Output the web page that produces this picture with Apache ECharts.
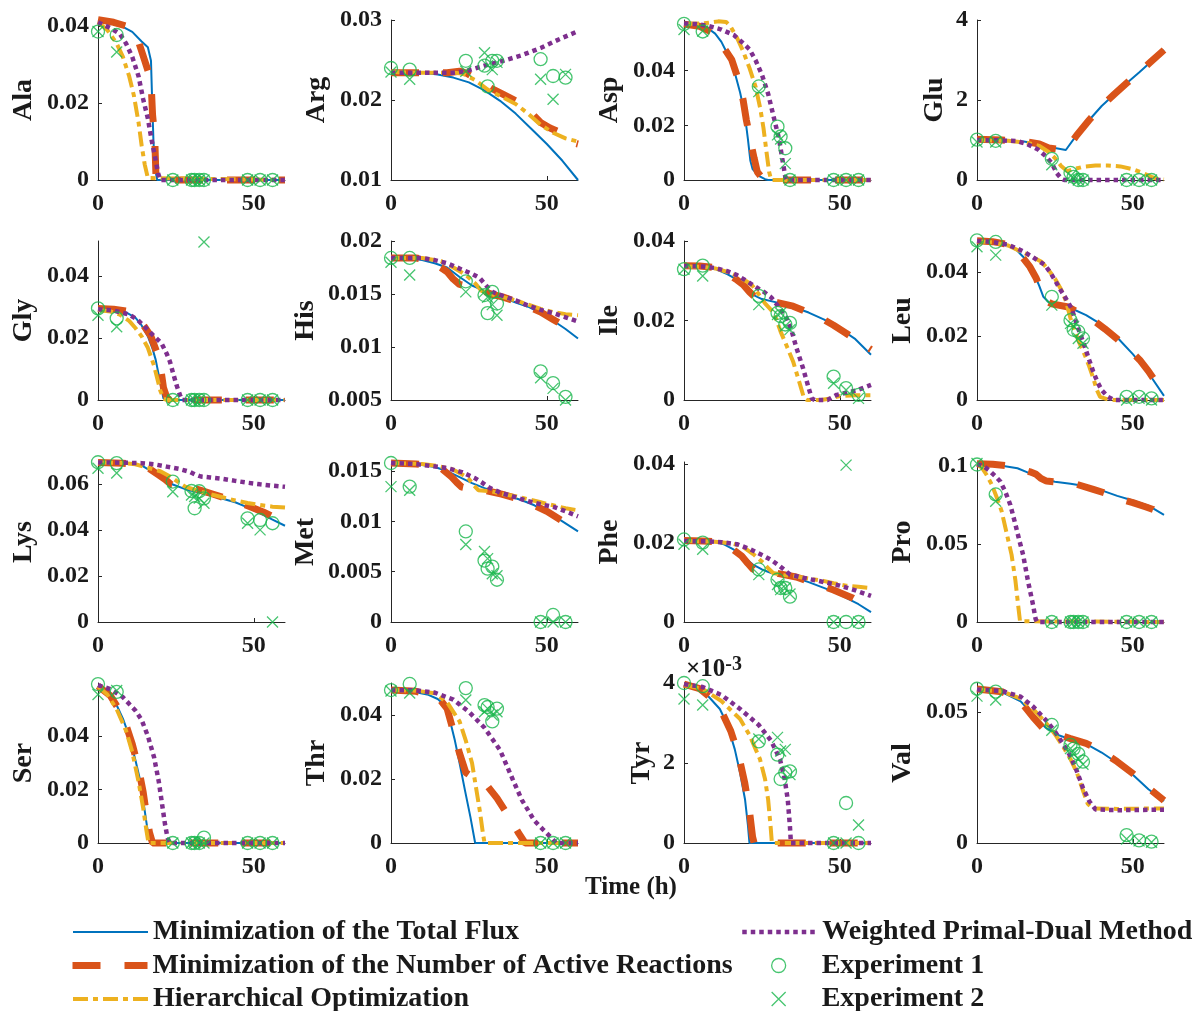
<!DOCTYPE html>
<html>
<head>
<meta charset="utf-8">
<script src="https://cdn.jsdelivr.net/npm/echarts@6/dist/echarts.min.js"></script>
<style>
  html, body { margin: 0; padding: 0; background: #ffffff; }
  #chart { width: 1194px; height: 1011px; }
</style>
</head>
<body>
<div id="chart"></div>
<script>
// Amino acid concentration profiles over time: four flux-estimation methods vs. two experiments.

const seriesNames = [
  'Minimization of the Total Flux',
  'Minimization of the Number of Active Reactions',
  'Hierarchical Optimization',
  'Weighted Primal-Dual Method',
  'Experiment 1',
  'Experiment 2'
];
const panelNames = ['Ala','Arg','Asp','Glu','Gly','His','Ile','Leu','Lys','Met','Phe','Pro','Ser','Thr','Tyr','Val'];
const xTicks = [0, 50];
const expTimes = [0, 6, 24, 30, 31, 32.5, 34, 48, 52, 56];

// ---- Ala ----
const alaRange = [0, 0.0416];
const alaTicks = [0, 0.02, 0.04];
const alaFlux = [[0,0.0415],[4,0.041],[8,0.0398],[11,0.0385],[14,0.036],[16,0.0345],[17,0.031],[17.4,0.02],[17.8,0.01],[18.3,0.003],[19,0],[60,0]];
const alaActive = [[0,0.0417],[5,0.041],[10,0.0398],[13,0.036],[15,0.031],[17,0.026],[17.5,0.017],[18.2,0.011],[18.6,0.001],[19,0],[60,0]];
const alaHier = [[0,0.041],[3,0.039],[6,0.0355],[8,0.032],[10,0.027],[11.5,0.022],[13,0.015],[14,0.009],[15,0.004],[16,0.0005],[16.5,0],[60,0]];
const alaPD = [[0,0.041],[4,0.0395],[7,0.038],[9,0.0355],[11,0.032],[13,0.027],[14.5,0.021],[16,0.016],[17.2,0.0104],[18.3,0.006],[19.3,0.0017],[20,0],[60,0]];
const alaExp1 = [0.0386,0.0377,0,0,0,0,0,0,0,0];
const alaExp2 = [0.0386,0.0333,0,0,0,0,0,0,0,0];

// ---- Arg ----
const argRange = [0.01, 0.03];
const argTicks = [0.01, 0.02, 0.03];
const argFlux = [[0,0.0235],[10,0.0234],[15,0.0232],[20,0.0228],[25,0.0222],[30,0.0212],[35,0.0199],[40,0.0183],[45,0.0164],[50,0.0145],[55,0.0124],[60,0.01]];
const argActive = [[0,0.0234],[10,0.0234],[18,0.0234],[22,0.0236],[24,0.0234],[28,0.0225],[32,0.0215],[36,0.0207],[40,0.0199],[44,0.0188],[48,0.0172],[51,0.0165],[54,0.016],[57,0.0148],[60,0.0145]];
const argHier = [[0,0.0235],[10,0.0234],[20,0.0234],[23,0.0233],[27,0.0225],[31,0.0213],[35,0.0205],[40,0.0195],[44,0.0183],[48,0.0169],[52,0.0159],[56,0.0152],[60,0.0148]];
const argPD = [[0,0.0234],[20,0.0234],[24,0.0236],[30,0.0243],[36,0.0249],[42,0.0256],[48,0.0265],[54,0.0276],[60,0.0286]];
const argExp1 = [0.024,0.0238,0.0249,0.0243,0.0217,0.0249,0.0249,0.0251,0.023,0.0228];
const argExp2 = [0.0235,0.0226,0.0236,0.0259,0.0243,0.0238,0.0247,0.0226,0.0201,0.0232];

// ---- Asp ----
const aspRange = [0, 0.0585];
const aspTicks = [0, 0.02, 0.04];
const aspFlux = [[0,0.0575],[5,0.0565],[8,0.0552],[10,0.0535],[12,0.0505],[14,0.046],[16,0.0405],[18,0.032],[19.5,0.024],[20.5,0.015],[21.3,0.007],[22,0.004],[24,0.0015],[26,0.0003],[27,0],[60,0]];
const aspActive = [[0,0.057],[5,0.0562],[10,0.0535],[13,0.048],[15.3,0.044],[18,0.0348],[19,0.029],[20,0.022],[21.7,0.0122],[22.5,0.008],[23.5,0.003],[25,0.0008],[27,0],[60,0]];
const aspHier = [[0,0.057],[5,0.0572],[8,0.0575],[11,0.058],[13.5,0.0578],[15,0.056],[17,0.052],[19,0.047],[21,0.041],[23,0.034],[24.5,0.026],[25.5,0.019],[26.5,0.01],[27.3,0.003],[28,0],[60,0]];
const aspPD = [[0,0.0572],[4,0.057],[8,0.0563],[12,0.055],[16,0.053],[19,0.05],[21,0.0478],[23,0.0437],[25,0.0385],[27,0.0315],[29,0.022],[30.5,0.015],[31.5,0.008],[32.5,0.0012],[33,0],[60,0]];
const aspExp1 = [0.0571,0.0543,0.0342,0.0195,0.0159,0.0116,0,0,0,0];
const aspExp2 = [0.055,0.0545,0.0323,0.0165,0.015,0.006,0,0,0,0];

// ---- Glu ----
const gluRange = [0, 4];
const gluTicks = [0, 2, 4];
const gluFlux = [[0,1.0],[5,1.0],[10,0.99],[15,0.96],[20,0.9],[25,0.8],[28.5,0.75],[32,1.13],[36,1.5],[40,1.85],[44,2.14],[48,2.42],[52,2.69],[56,2.97],[60,3.25]];
const gluActive = [[0,1.02],[8,1.0],[15,0.97],[20,0.9],[23,0.8],[28.5,0.74],[32,1.12],[36,1.5],[40,1.85],[44,2.14],[48,2.42],[52,2.69],[56,2.97],[60,3.25]];
const gluHier = [[0,1.0],[10,0.98],[16,0.93],[20,0.85],[23,0.7],[25,0.55],[27,0.35],[29,0.22],[31,0.27],[34,0.33],[38,0.36],[42,0.36],[46,0.34],[50,0.27],[53,0.18],[56,0.08],[58,0.02],[60,0.01]];
const gluPD = [[0,1.0],[8,0.99],[13,0.97],[16,0.9],[19.6,0.76],[22,0.6],[24,0.42],[25.6,0.17],[27,0.04],[28,0],[60,0]];
const gluExp1 = [1.01,0.98,0.53,0.18,0.08,0,0,0,0,0];
const gluExp2 = [0.95,0.95,0.38,0.1,0.05,0,0,0,0,0];

// ---- Gly ----
const glyRange = [0, 0.0512];
const glyTicks = [0, 0.02, 0.04];
const glyFlux = [[0,0.0295],[5,0.0291],[9,0.0282],[12,0.0265],[14,0.024],[16,0.0205],[17.5,0.0165],[18.5,0.013],[19.5,0.008],[20.3,0.004],[21,0.0005],[22,0],[60,0]];
const glyActive = [[0,0.0295],[5,0.0292],[10,0.0285],[13,0.026],[15,0.0235],[17,0.0205],[19,0.015],[20,0.011],[21,0.004],[22,0.001],[23,0],[60,0]];
const glyHier = [[0,0.029],[4,0.0285],[7,0.0275],[10,0.0255],[12,0.0232],[14,0.0205],[16,0.0168],[18,0.011],[19,0.007],[20,0.003],[21,0.0005],[22,0],[60,0]];
const glyPD = [[0,0.0292],[5,0.0288],[10,0.0275],[12.5,0.026],[14.5,0.0241],[17,0.0215],[18.8,0.0198],[20.4,0.0182],[22,0.015],[23.1,0.0123],[24.1,0.0086],[25.2,0.0048],[26.3,0.0016],[27,0],[60,0]];
const glyExp1 = [0.0295,0.0263,0,0,0,0,0,0,0,0];
const glyExp2 = [0.0273,0.0236,0,0,0,0,0.0509,0,0,0];

// ---- His ----
const hisRange = [0.005, 0.02];
const hisTicks = [0.005, 0.01, 0.015, 0.02];
const hisFlux = [[0,0.0185],[6,0.0184],[10,0.0182],[14,0.0179],[18,0.0175],[22,0.0166],[26,0.0158],[30,0.0153],[34,0.0149],[40,0.0142],[44,0.0138],[48,0.0132],[52,0.0125],[56,0.0117],[60,0.0108]];
const hisActive = [[0,0.0184],[8,0.0184],[12,0.0182],[16,0.0175],[18,0.0171],[20,0.0164],[22,0.0159],[25,0.0157],[28,0.0155],[32,0.015],[36,0.0147],[40,0.0143],[44,0.0138],[48,0.0133],[52,0.0126],[56,0.0119],[60,0.0111]];
const hisHier = [[0,0.0184],[10,0.0184],[16,0.0181],[20,0.0175],[24,0.0168],[27,0.016],[29,0.0153],[32,0.015],[36,0.0147],[40,0.0144],[44,0.014],[48,0.0136],[52,0.0133],[56,0.0131],[60,0.013]];
const hisPD = [[0,0.0184],[10,0.0184],[14,0.0182],[18,0.0179],[22,0.0174],[26,0.0169],[28.5,0.0165],[30.5,0.0158],[32.5,0.0152],[36,0.0148],[40,0.0144],[44,0.0139],[48,0.0135],[52,0.0132],[56,0.0128],[60,0.0124]];
const hisExp1 = [0.0184,0.0184,0.0162,0.0149,0.0132,0.0152,0.0141,0.0077,0.0066,0.0053];
const hisExp2 = [0.018,0.0168,0.0152,0.0152,0.0147,0.014,0.013,0.0071,0.0061,0.005];

// ---- Ile ----
const ileRange = [0, 0.04];
const ileTicks = [0, 0.02, 0.04];
const ileFlux = [[0,0.0338],[5,0.0336],[10,0.033],[14,0.0316],[17,0.0303],[20,0.0281],[22,0.0265],[25,0.0254],[30,0.0245],[35,0.0234],[40,0.022],[45,0.0202],[50,0.018],[55,0.0153],[60,0.0114]];
const ileActive = [[0,0.0338],[5,0.0337],[10,0.0333],[14,0.0318],[17,0.0302],[19,0.029],[21,0.0272],[23,0.0257],[25,0.0253],[30,0.0245],[35,0.0236],[40,0.022],[44,0.0206],[48,0.0188],[52,0.0168],[56,0.0147],[60,0.0127]];
const ileHier = [[0,0.0336],[6,0.0335],[10,0.0331],[14,0.0322],[17,0.0312],[20,0.0299],[22,0.0287],[24,0.0266],[26,0.0243],[28,0.0226],[29.5,0.0205],[31,0.0172],[33,0.0135],[35,0.0097],[37,0.0045],[38.5,0.0005],[39.5,0],[44,0],[47,0.0004],[50,0.001],[55,0.0012],[60,0.0012]];
const ilePD = [[0,0.0337],[6,0.0336],[10,0.0332],[14,0.0324],[17,0.0314],[20,0.03],[23.3,0.0283],[26,0.027],[28,0.0258],[30,0.0238],[31.5,0.0222],[33,0.0205],[34.5,0.0175],[36,0.0133],[38.2,0.008],[40,0.003],[41,0.0004],[42,0],[46,0],[49,0.0013],[52,0.0018],[55.3,0.0024],[60,0.0038]];
const ileExp1 = [0.0329,0.0338,0.0262,0.0219,0.0211,0.019,0.0194,0.0059,0.003,0.0013];
const ileExp2 = [0.0329,0.0312,0.024,0.0215,0.0219,0.0186,0.0177,0.0042,0.0025,0.0004];

// ---- Leu ----
const leuRange = [0, 0.0496];
const leuTicks = [0, 0.02, 0.04];
const leuFlux = [[0,0.0495],[5,0.0492],[10,0.0483],[13,0.0465],[15.5,0.044],[18.5,0.039],[20,0.0355],[21.3,0.0322],[23,0.0305],[25,0.03],[30,0.0287],[35,0.0265],[40,0.0235],[45,0.0195],[50,0.0143],[53,0.0108],[56,0.007],[60,0.0013]];
const leuActive = [[0,0.0497],[5,0.0494],[10,0.0485],[13,0.0465],[17,0.0415],[19,0.038],[20.7,0.0337],[22,0.031],[24,0.03],[29.3,0.029],[33,0.027],[37.3,0.0249],[41,0.0222],[44.8,0.0192],[48.5,0.016],[52.2,0.0125],[55,0.009],[58,0.0047],[60,0.0036]];
const leuHier = [[0,0.0495],[5,0.0492],[10,0.0482],[13,0.0468],[17,0.045],[20.7,0.0431],[23,0.0405],[25,0.0379],[27,0.0345],[28.5,0.031],[30,0.0255],[31.4,0.0213],[33,0.0175],[34.6,0.014],[36,0.0105],[37.3,0.0068],[38.5,0.003],[39.5,0.001],[42,0.0002],[44,0],[60,0]];
const leuPD = [[0,0.0496],[5,0.0493],[10,0.0484],[13,0.0472],[15.5,0.046],[18,0.0445],[21.8,0.0421],[23.5,0.0398],[25,0.0374],[26.5,0.0348],[28.2,0.0322],[30.3,0.0286],[32.5,0.0223],[34.6,0.0166],[36,0.0125],[37.3,0.0088],[38.7,0.0055],[40,0.0031],[42,0.001],[44,0],[60,0]];
const leuExp1 = [0.0498,0.0493,0.0322,0.0249,0.0219,0.0213,0.0192,0.001,0.001,0.0005];
const leuExp2 = [0.0478,0.0452,0.0296,0.0239,0.023,0.0192,0.0177,0,0.0005,0];

// ---- Lys ----
const lysRange = [0, 0.0695];
const lysTicks = [0, 0.02, 0.04, 0.06];
const lysFlux = [[0,0.0693],[5,0.0692],[10,0.0689],[14,0.068],[17,0.0655],[20,0.0633],[24,0.0597],[28,0.0577],[32,0.0563],[36,0.055],[40,0.0535],[44,0.052],[48,0.0498],[52,0.0472],[56,0.0445],[60,0.0418]];
const lysActive = [[0,0.0693],[8,0.069],[12,0.0685],[16,0.067],[19.3,0.064],[21.5,0.062],[23.5,0.0597],[26,0.0593],[29,0.0588],[33,0.0572],[37,0.0555],[41,0.0538],[45,0.052],[49,0.05],[53,0.0478],[57,0.0452],[60,0.043]];
const lysHier = [[0,0.0693],[8,0.0691],[12,0.0685],[16,0.067],[20,0.0655],[24,0.0625],[26,0.0605],[28,0.0588],[32,0.057],[36,0.0555],[40,0.0542],[44,0.0528],[48,0.0517],[52,0.0508],[56,0.0501],[60,0.0497]];
const lysPD = [[0,0.0693],[8,0.0692],[14,0.069],[18,0.0685],[22,0.0675],[26,0.0665],[29.5,0.0652],[31,0.0642],[33,0.0632],[36,0.0628],[40,0.0622],[44,0.0613],[48,0.0605],[52,0.0598],[56,0.0592],[60,0.0587]];
const lysExp1 = [0.0694,0.069,0.061,0.0569,0.0494,0.0568,0.0537,0.045,0.0443,0.0429];
const lysExp2 = [0.0668,0.0647,0.0566,0.0552,0.0545,0.0538,0.0516,0.0429,0.04,0];

// ---- Met ----
const metRange = [0, 0.0159];
const metTicks = [0, 0.005, 0.01, 0.015];
const metFlux = [[0,0.0158],[6,0.0157],[10,0.0156],[14,0.0154],[18,0.015],[22,0.0144],[26,0.0138],[30,0.0133],[34,0.0129],[38,0.0125],[42,0.0121],[46,0.0116],[50,0.0109],[54,0.0102],[57,0.0096],[60,0.009]];
const metActive = [[0,0.0158],[8,0.0157],[12,0.0156],[16,0.0153],[19.5,0.0144],[21,0.0139],[22.7,0.0134],[26,0.0132],[30,0.0131],[35.5,0.0127],[40,0.0123],[46,0.0116],[50,0.011],[54.7,0.0101],[60,0.0093]];
const metHier = [[0,0.0158],[10,0.0157],[15,0.0155],[19.5,0.0152],[22,0.0148],[24.8,0.0143],[26.5,0.0136],[28,0.0131],[32,0.013],[36,0.0127],[40,0.0125],[44,0.0122],[48,0.0119],[52,0.0116],[56,0.0113],[60,0.0111]];
const metPD = [[0,0.0158],[8,0.0157],[13,0.0155],[18,0.0153],[22.7,0.0149],[26.9,0.0143],[29,0.0139],[31.2,0.0134],[35.5,0.0128],[40,0.0124],[44,0.012],[48,0.0117],[52.6,0.0114],[56,0.011],[60,0.0105]];
const metExp1 = [0.0158,0.01345,0.009,0.0061,0.0053,0.0055,0.0042,0,0.0007,0];
const metExp2 = [0.01345,0.0131,0.0077,0.007,0.0063,0.0048,0.0046,0,0,0];

// ---- Phe ----
const pheRange = [0, 0.0405];
const pheTicks = [0, 0.02, 0.04];
const pheFlux = [[0,0.0205],[5,0.0205],[10,0.0203],[13,0.0196],[16,0.0183],[19,0.0166],[22,0.0146],[25,0.0133],[28,0.0124],[32,0.0117],[36,0.0111],[40,0.0101],[44,0.0089],[48,0.0077],[52,0.0061],[56,0.0045],[60,0.0025]];
const pheActive = [[0,0.0206],[6,0.0205],[10,0.0203],[14,0.0192],[16,0.0182],[18.5,0.0167],[20.5,0.0148],[22.2,0.0133],[25,0.0132],[28,0.0126],[32,0.012],[36,0.0114],[40,0.0103],[44.7,0.0091],[48,0.0081],[51,0.0071],[54.3,0.006],[57,0.0048],[60,0.0034]];
const pheHier = [[0,0.0205],[8,0.0204],[12,0.0202],[16,0.0198],[19,0.019],[22.2,0.0172],[24,0.016],[25.4,0.015],[27,0.0136],[28.6,0.0124],[32,0.0119],[36,0.0115],[40,0.011],[44.7,0.0104],[48,0.0098],[52,0.0092],[56,0.0089],[60,0.0086]];
const phePD = [[0,0.0205],[8,0.0204],[12,0.0202],[17,0.0197],[21,0.0185],[25.4,0.0168],[28,0.0157],[30.8,0.0141],[32.5,0.013],[34,0.012],[37,0.0114],[40,0.0109],[45,0.0101],[50,0.0092],[55,0.008],[60,0.0066]];
const pheExp1 = [0.0209,0.0201,0.0133,0.0107,0.0086,0.0086,0.0064,0,0,0];
const pheExp2 = [0.0197,0.0184,0.012,0.0095,0.0082,0.0086,0.0071,0,0.0397,0];

// ---- Pro ----
const proRange = [0, 0.1025];
const proTicks = [0, 0.05, 0.1];
const proFlux = [[0,0.1012],[5,0.101],[10,0.0995],[13,0.0985],[16,0.096],[19,0.0932],[22,0.0912],[25,0.0898],[30,0.0885],[35,0.087],[40,0.0843],[45,0.0808],[50,0.0778],[55,0.0745],[60,0.0686]];
const proActive = [[0,0.1013],[5,0.1011],[10,0.1],[14,0.098],[17,0.0962],[19,0.0946],[20.5,0.092],[22.3,0.0903],[25,0.0898],[27.6,0.0895],[32,0.0882],[37.3,0.085],[42,0.082],[46.4,0.0785],[50,0.0765],[54,0.0738],[56.5,0.0721],[60,0.0675]];
const proHier = [[0,0.101],[1.5,0.099],[3,0.0945],[4.7,0.0882],[6.5,0.079],[7.9,0.071],[9.5,0.057],[11.1,0.043],[12.3,0.027],[13.2,0.0108],[13.8,0.0005],[14.2,0],[60,0]];
const proPD = [[0,0.101],[2,0.1],[4,0.097],[5.8,0.0935],[7.5,0.09],[9,0.0839],[10.7,0.075],[12.2,0.0635],[13.5,0.053],[14.8,0.043],[16.4,0.0258],[18,0.0108],[18.8,0.002],[19.3,0],[60,0]];
const proExp1 = [0.1009,0.0817,0,0,0,0,0,0,0,0];
const proExp2 = [0.1015,0.0774,0,0,0,0,0,0,0,0];

// ---- Ser ----
const serRange = [0, 0.0598];
const serTicks = [0, 0.02, 0.04];
const serFlux = [[0,0.0587],[2,0.057],[4,0.0548],[6,0.0515],[8,0.0465],[10,0.04],[12,0.031],[13.5,0.0236],[14.5,0.016],[15.5,0.008],[16.3,0.002],[17,0],[60,0]];
const serActive = [[0,0.0587],[4,0.055],[8,0.0475],[11,0.037],[13,0.028],[14.5,0.019],[15.5,0.011],[16.5,0.004],[17.5,0],[60,0]];
const serHier = [[0,0.0585],[3,0.0555],[6,0.05],[9,0.042],[11,0.034],[13,0.023],[14.5,0.013],[15.5,0.005],[16.2,0],[60,0]];
const serPD = [[0,0.059],[4,0.0575],[8,0.0545],[12,0.0495],[14,0.046],[16,0.04],[18,0.032],[19.5,0.023],[20.5,0.015],[21.5,0.007],[22.3,0.002],[23,0],[60,0]];
const serExp1 = [0.0594,0.0565,0,0,0,0,0.002,0,0,0];
const serExp2 = [0.0555,0.057,0,0,0,0,0,0,0,0];

// ---- Thr ----
const thrRange = [0, 0.05];
const thrTicks = [0, 0.02, 0.04];
const thrFlux = [[0,0.0478],[6,0.0475],[12,0.0463],[15,0.045],[17.3,0.043],[19,0.038],[20.5,0.032],[22,0.025],[23.7,0.0166],[25.5,0.008],[27,0],[60,0]];
const thrActive = [[0,0.0478],[8,0.0474],[13,0.0462],[16,0.0445],[18,0.042],[20,0.035],[22,0.028],[24,0.022],[27,0.02],[30,0.019],[34,0.014],[38,0.008],[41,0.003],[43,0],[60,0]];
const thrHier = [[0,0.0478],[8,0.0476],[14,0.0468],[18,0.044],[20,0.041],[22,0.038],[24,0.032],[26,0.025],[27.5,0.016],[28.5,0.01],[29.5,0.003],[30,0],[60,0]];
const thrPD = [[0,0.0478],[8,0.0477],[14,0.047],[20,0.0448],[25,0.041],[30,0.036],[35,0.029],[39,0.02],[42,0.0134],[46,0.007],[49,0.004],[51.6,0.0015],[53,0],[60,0]];
const thrExp1 = [0.0478,0.0497,0.0484,0.0431,0.0425,0.038,0.042,0,0,0];
const thrExp2 = [0.0475,0.0469,0.0447,0.041,0.042,0.04,0.041,0,0,0];

// ---- Tyr (x 1e-3) ----
const tyrRange = [0, 4];
const tyrTicks = [0, 2, 4];
const tyrFlux = [[0,3.95],[5,3.85],[8,3.65],[11.5,3.35],[14,2.95],[16.3,2.34],[18,1.75],[19.6,1.08],[20.5,0.45],[21,0],[60,0]];
const tyrActive = [[0,3.97],[5,3.86],[9,3.6],[12,3.3],[15,2.8],[17.5,2.2],[19.5,1.5],[21,0.8],[22,0.15],[22.5,0],[60,0]];
const tyrHier = [[0,3.95],[6,3.85],[12,3.55],[18,3.1],[21,2.7],[24.4,2.09],[26,1.6],[27,1.08],[27.8,0.4],[28.2,0],[60,0]];
const tyrPD = [[0,3.97],[6,3.9],[12,3.7],[18,3.35],[24,2.95],[28,2.55],[30.8,2.09],[32.3,1.6],[33.3,1.08],[34,0.4],[34.3,0],[60,0]];
const tyrExp1 = [4.0,3.92,2.54,2.21,1.6,1.76,1.79,0,1.0,0];
const tyrExp2 = [3.6,3.45,2.6,2.64,2.3,2.34,1.71,0,0,0.45];

// ---- Val ----
const valRange = [0, 0.061];
const valTicks = [0, 0.05];
const valFlux = [[0,0.0585],[8,0.0575],[14,0.054],[18,0.049],[22,0.044],[26,0.0412],[30,0.0395],[35,0.0378],[40,0.0345],[45,0.0305],[50,0.026],[55,0.0205],[60,0.016]];
const valActive = [[0,0.0587],[8,0.0577],[14,0.054],[18,0.048],[21,0.044],[24,0.042],[30,0.0398],[35,0.038],[40,0.035],[45,0.031],[50,0.0265],[55,0.021],[60,0.0162]];
const valHier = [[0,0.0585],[8,0.0578],[14,0.055],[18,0.051],[22,0.046],[25,0.0415],[28,0.036],[30,0.032],[32,0.027],[34,0.02],[35.5,0.015],[37,0.0132],[45,0.013],[60,0.0132]];
const valPD = [[0,0.0585],[8,0.058],[14,0.0558],[18,0.052],[22,0.047],[25,0.0425],[28,0.037],[30,0.033],[32,0.0275],[34,0.021],[36,0.016],[38,0.0128],[45,0.0125],[60,0.0127]];
const valExp1 = [0.0588,0.0577,0.045,0.0374,0.036,0.034,0.031,0.003,0.001,0.0005];
const valExp2 = [0.056,0.0545,0.043,0.036,0.034,0.032,0.03,0.0015,0.0008,0.0003];

// Panel table assembled from the arrays above (row-major, 4 x 4).
const panels = [
  [alaRange, alaTicks, alaFlux, alaActive, alaHier, alaPD, alaExp1, alaExp2],
  [argRange, argTicks, argFlux, argActive, argHier, argPD, argExp1, argExp2],
  [aspRange, aspTicks, aspFlux, aspActive, aspHier, aspPD, aspExp1, aspExp2],
  [gluRange, gluTicks, gluFlux, gluActive, gluHier, gluPD, gluExp1, gluExp2],
  [glyRange, glyTicks, glyFlux, glyActive, glyHier, glyPD, glyExp1, glyExp2],
  [hisRange, hisTicks, hisFlux, hisActive, hisHier, hisPD, hisExp1, hisExp2],
  [ileRange, ileTicks, ileFlux, ileActive, ileHier, ilePD, ileExp1, ileExp2],
  [leuRange, leuTicks, leuFlux, leuActive, leuHier, leuPD, leuExp1, leuExp2],
  [lysRange, lysTicks, lysFlux, lysActive, lysHier, lysPD, lysExp1, lysExp2],
  [metRange, metTicks, metFlux, metActive, metHier, metPD, metExp1, metExp2],
  [pheRange, pheTicks, pheFlux, pheActive, pheHier, phePD, pheExp1, pheExp2],
  [proRange, proTicks, proFlux, proActive, proHier, proPD, proExp1, proExp2],
  [serRange, serTicks, serFlux, serActive, serHier, serPD, serExp1, serExp2],
  [thrRange, thrTicks, thrFlux, thrActive, thrHier, thrPD, thrExp1, thrExp2],
  [tyrRange, tyrTicks, tyrFlux, tyrActive, tyrHier, tyrPD, tyrExp1, tyrExp2],
  [valRange, valTicks, valFlux, valActive, valHier, valPD, valExp1, valExp2]
].map((p, i) => ({
  name: panelNames[i], range: p[0], ticks: p[1],
  curves: [p[2], p[3], p[4], p[5]], exp1: p[6], exp2: p[7]
}));

// ---- styling ----
const FONT = '"Liberation Serif", "Times New Roman", serif';
const AXIS_COLOR = '#262626';
const TEXT_COLOR = '#1a1a1a';
const GREEN = '#19b64c';
const CROSS = 'path://M0,0L10,10M10,0L0,10';
const lineStyles = [
  { color: '#0072BD', width: 2, type: 'solid' },
  { color: '#D95319', width: 7, type: [28, 24], cap: 'butt' },
  { color: '#EDB120', width: 4, type: [15, 5, 5, 5], cap: 'butt' },
  { color: '#7E2F8E', width: 4.5, type: [4.5, 4], cap: 'butt' }
];
const markerStyle = { color: 'rgba(0,0,0,0)', borderColor: GREEN, borderWidth: 1.3 };

// Panel placement (pixels)
const colLeft = [98, 391, 684, 977];
const rowTop = [20, 241, 462, 683];
const rowHeight = [160, 159, 160, 160];
const panelWidth = 187;

function fmtTick(v) {
  return String(Number(v.toPrecision(6)));
}

const grid = [], xAxis = [], yAxis = [], series = [];
panels.forEach((p, i) => {
  const r = Math.floor(i / 4), c = i % 4;
  grid.push({ left: colLeft[c], top: rowTop[r], width: panelWidth, height: rowHeight[r], containLabel: false });
  xAxis.push({
    type: 'value', gridIndex: i, min: 0, max: 60,
    axisLine: { show: true, onZero: false, lineStyle: { color: AXIS_COLOR, width: 1 } },
    axisTick: { show: true, inside: true, length: 4, customValues: xTicks, lineStyle: { color: AXIS_COLOR } },
    axisLabel: { customValues: xTicks, formatter: fmtTick, margin: 12, color: TEXT_COLOR,
      fontFamily: FONT, fontWeight: 'bold', fontSize: 24 },
    splitLine: { show: false }
  });
  const labelWidest = Math.max(...p.ticks.map(t => fmtTick(t).length));
  yAxis.push({
    type: 'value', gridIndex: i, min: p.range[0], max: p.range[1],
    name: p.name, nameLocation: 'middle', nameRotate: 90,
    nameGap: 18 + labelWidest * 10.6,
    nameTextStyle: { fontFamily: FONT, fontWeight: 'bold', fontSize: 28, color: TEXT_COLOR },
    axisLine: { show: true, onZero: false, lineStyle: { color: AXIS_COLOR, width: 1 } },
    axisTick: { show: true, inside: true, length: 4, customValues: p.ticks, lineStyle: { color: AXIS_COLOR } },
    axisLabel: { customValues: p.ticks, formatter: fmtTick, margin: 9, color: TEXT_COLOR,
      fontFamily: FONT, fontWeight: 'bold', fontSize: 24 },
    splitLine: { show: false }
  });
  p.curves.forEach((data, k) => {
    series.push({
      name: seriesNames[k], type: 'line', xAxisIndex: i, yAxisIndex: i,
      data: data, symbol: 'none', smooth: false, clip: false,
      itemStyle: { color: lineStyles[k].color },
      lineStyle: lineStyles[k], z: 2 + k, silent: true, animation: false
    });
  });
  series.push({
    name: seriesNames[4], type: 'scatter', xAxisIndex: i, yAxisIndex: i,
    data: expTimes.map((t, j) => [t, p.exp1[j]]),
    symbol: 'circle', symbolSize: 13, itemStyle: markerStyle, z: 10, clip: false, silent: true, animation: false
  });
  series.push({
    name: seriesNames[5], type: 'scatter', xAxisIndex: i, yAxisIndex: i,
    data: expTimes.map((t, j) => [t, p.exp2[j]]),
    symbol: CROSS, symbolSize: 11, itemStyle: markerStyle, z: 11, clip: false, silent: true, animation: false
  });
});

// Legend: two columns of three entries, one legend component per entry
const legendSpots = [[72, 918], [69, 951.5], [71, 985], [740, 918], [771, 951.5], [771, 985]];
const legend = seriesNames.map((nm, k) => {
  const isLine = k < 4;
  return {
    left: legendSpots[k][0], top: legendSpots[k][1], orient: 'vertical', padding: 0,
    itemWidth: isLine ? 75 : 26, itemHeight: 14, selectedMode: false,
    lineStyle: isLine ? { width: lineStyles[k].width } : undefined,
    textStyle: { fontFamily: FONT, fontWeight: 'bold', fontSize: 28, color: TEXT_COLOR,
      padding: isLine ? 0 : [0, 0, 0, 25] },
    data: [isLine
      ? { name: nm, itemStyle: { opacity: 0 } }
      : { name: nm, icon: k === 4 ? 'circle' : CROSS,
          itemStyle: { color: 'rgba(0,0,0,0)', borderColor: GREEN, borderWidth: 1.3 } }]
  };
});

const chart = echarts.init(document.getElementById('chart'), null, { renderer: 'canvas' });
chart.setOption({
  backgroundColor: '#ffffff',
  animation: false,
  grid, xAxis, yAxis, series, legend,
  graphic: [
    { type: 'text', x: 631, y: 888, style: { text: 'Time (h)', font: 'bold 25px ' + FONT, fill: TEXT_COLOR,
        align: 'center', verticalAlign: 'middle' }, z: 20 },
    { type: 'text', x: 686, y: 655, style: {
        text: '{a|\u00d710}{b|-3}',
        rich: { a: { font: 'bold 25px ' + FONT, fill: TEXT_COLOR },
                b: { font: 'bold 20px ' + FONT, fill: TEXT_COLOR, verticalAlign: 'top', padding: [0, 0, 10, 0] } }
      }, z: 20 }
  ]
});
</script>
</body>
</html>
